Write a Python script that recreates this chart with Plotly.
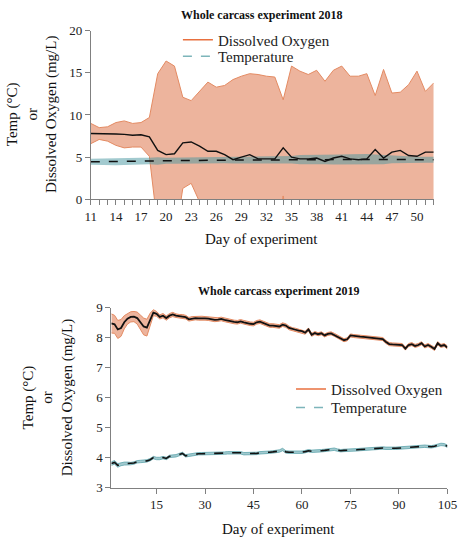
import plotly.graph_objects as go

# ---------------- data: 2018 ----------------
days_2018 = list(range(11, 53))
do_mean_2018 = [7.8, 7.8, 7.75, 7.75, 7.7, 7.6, 7.65, 7.4, 5.8, 5.3, 5.4, 6.7, 6.8, 6.3,
                5.7, 5.7, 5.3, 4.7, 5.0, 5.3, 4.8, 4.8, 4.8, 6.1, 5.0, 4.8, 4.8, 4.9,
                4.5, 4.9, 5.1, 4.8, 4.7, 4.8, 5.9, 4.9, 5.6, 5.8, 5.2, 5.1, 5.6, 5.6]
do_sd_2018 = [1.2, 0.7, 0.85, 1.35, 1.6, 1.4, 1.45, 2.3, 9.1, 11.1, 10.4, 5.4, 4.9, 6.5,
              8.2, 7.6, 8.2, 9.5, 9.6, 9.6, 10.0, 9.8, 9.7, 5.7, 10.8, 10.4, 10.0, 10.4,
              9.5, 10.4, 10.7, 9.8, 9.9, 10.1, 6.4, 10.5, 7.0, 6.9, 8.4, 10.1, 7.2, 8.2]
temp_mean_2018 = [4.45, 4.45, 4.47, 4.48, 4.5, 4.5, 4.52, 4.55, 4.55, 4.57, 4.58, 4.6, 4.6, 4.62,
                  4.63, 4.64, 4.65, 4.66, 4.67, 4.68, 4.68, 4.69, 4.7, 4.7, 4.7, 4.71, 4.72, 4.72,
                  4.72, 4.72, 4.73, 4.73, 4.73, 4.73, 4.72, 4.72, 4.72, 4.71, 4.71, 4.7, 4.7, 4.7]
temp_sd_2018 = [0.35, 0.38, 0.42, 0.44, 0.42, 0.4, 0.42, 0.38, 0.45, 0.35, 0.35, 0.35, 0.38, 0.36,
                0.35, 0.36, 0.38, 0.4, 0.4, 0.42, 0.4, 0.42, 0.42, 0.4, 0.45, 0.55, 0.55, 0.5,
                0.55, 0.6, 0.6, 0.62, 0.65, 0.65, 0.6, 0.55, 0.45, 0.4, 0.38, 0.35, 0.35, 0.35]

# ---------------- data: 2019 ----------------
days_2019 = list(range(1, 106))
do_mean_2019 = [8.48, 8.45, 8.28, 8.33, 8.52, 8.64, 8.70, 8.71, 8.66, 8.52,
                8.38, 8.34, 8.62, 8.84, 8.80, 8.70, 8.74, 8.66, 8.74, 8.78,
                8.74, 8.72, 8.72, 8.69, 8.62, 8.65, 8.66, 8.65, 8.66, 8.65,
                8.64, 8.62, 8.60, 8.61, 8.63, 8.60, 8.57, 8.54, 8.53, 8.52,
                8.55, 8.52, 8.49, 8.47, 8.46, 8.52, 8.54, 8.50, 8.44, 8.41,
                8.41, 8.40, 8.38, 8.44, 8.41, 8.33, 8.29, 8.27, 8.24, 8.22,
                8.17, 8.28, 8.10, 8.16, 8.12, 8.15, 8.08, 8.13, 8.15, 8.10,
                8.04, 7.98, 7.92, 7.95, 8.08, 8.06, 8.05, 8.04, 8.03, 8.02,
                8.01, 8.00, 7.99, 7.98, 7.96, 7.86, 7.79, 7.78, 7.77, 7.77,
                7.76, 7.64, 7.76, 7.79, 7.73, 7.76, 7.82, 7.71, 7.76, 7.70,
                7.63, 7.82, 7.73, 7.76, 7.68]
do_sd_2019 = [0.32, 0.30, 0.30, 0.28, 0.22, 0.18, 0.17, 0.17, 0.20, 0.24,
              0.28, 0.28, 0.20, 0.10, 0.08, 0.07, 0.07, 0.07, 0.07, 0.07,
              0.06, 0.06, 0.06, 0.06, 0.06, 0.06, 0.06, 0.06, 0.06, 0.06,
              0.06, 0.06, 0.06, 0.06, 0.06, 0.06, 0.06, 0.06, 0.06, 0.06,
              0.06, 0.06, 0.06, 0.06, 0.06, 0.06, 0.06, 0.06, 0.06, 0.06,
              0.06, 0.06, 0.06, 0.06, 0.06, 0.06, 0.05, 0.05, 0.05, 0.05,
              0.05, 0.05, 0.05, 0.05, 0.05, 0.05, 0.05, 0.05, 0.05, 0.05,
              0.05, 0.05, 0.05, 0.05, 0.05, 0.05, 0.05, 0.05, 0.05, 0.05,
              0.05, 0.05, 0.05, 0.05, 0.05, 0.05, 0.05, 0.05, 0.05, 0.05,
              0.05, 0.05, 0.05, 0.05, 0.05, 0.05, 0.05, 0.05, 0.05, 0.05,
              0.05, 0.05, 0.05, 0.05, 0.05]
temp_mean_2019 = [3.80, 3.84, 3.74, 3.78, 3.80, 3.80, 3.80, 3.82, 3.86, 3.87,
                  3.88, 3.89, 3.93, 4.00, 3.97, 3.97, 4.00, 3.97, 4.04, 4.05,
                  4.06, 4.10, 4.14, 4.06, 4.08, 4.09, 4.11, 4.13, 4.13, 4.13,
                  4.14, 4.15, 4.15, 4.14, 4.15, 4.15, 4.16, 4.16, 4.17, 4.18,
                  4.16, 4.13, 4.13, 4.13, 4.13, 4.14, 4.16, 4.16, 4.17, 4.18,
                  4.19, 4.20, 4.22, 4.27, 4.19, 4.18, 4.18, 4.17, 4.17, 4.18,
                  4.20, 4.23, 4.21, 4.21, 4.22, 4.23, 4.24, 4.26, 4.28, 4.28,
                  4.25, 4.23, 4.24, 4.24, 4.25, 4.25, 4.26, 4.27, 4.28, 4.29,
                  4.29, 4.30, 4.31, 4.32, 4.32, 4.31, 4.30, 4.31, 4.31, 4.32,
                  4.31, 4.32, 4.34, 4.35, 4.36, 4.36, 4.37, 4.38, 4.37, 4.36,
                  4.38, 4.42, 4.44, 4.43, 4.38]
temp_sd_2019 = [0.06, 0.06, 0.06, 0.05, 0.05, 0.05, 0.04, 0.04, 0.04, 0.04,
                0.04, 0.04, 0.04, 0.04, 0.04, 0.04, 0.04, 0.04, 0.04, 0.04,
                0.04, 0.04, 0.04, 0.04, 0.04, 0.04, 0.04, 0.04, 0.04, 0.04,
                0.04, 0.04, 0.04, 0.04, 0.04, 0.04, 0.04, 0.04, 0.04, 0.04,
                0.04, 0.04, 0.04, 0.04, 0.04, 0.04, 0.04, 0.04, 0.04, 0.04,
                0.04, 0.04, 0.04, 0.04, 0.04, 0.04, 0.04, 0.04, 0.04, 0.04,
                0.04, 0.04, 0.04, 0.04, 0.04, 0.04, 0.04, 0.04, 0.04, 0.04,
                0.04, 0.04, 0.04, 0.04, 0.04, 0.04, 0.04, 0.04, 0.04, 0.04,
                0.04, 0.04, 0.04, 0.04, 0.04, 0.04, 0.04, 0.04, 0.04, 0.04,
                0.04, 0.04, 0.04, 0.04, 0.04, 0.04, 0.04, 0.04, 0.04, 0.04,
                0.04, 0.04, 0.04, 0.04, 0.04]

series_names = ["Dissolved Oxygen", "Temperature"]
title_2018 = "Whole carcass experiment 2018"
title_2019 = "Whole carcass experiment 2019"
x_title = "Day of experiment"
y_title = "Temp (°C)<br>or<br>Dissolved Oxygen (mg/L)"

# ---------------- styles ----------------
FONT = "Liberation Serif"
ORANGE_EDGE = "#E38A62"
ORANGE_FILL = "rgba(222,118,76,0.55)"
ORANGE_LEG = "#E8703F"
TEAL_EDGE = "rgba(95,165,172,0.8)"
TEAL_FILL = "rgba(70,150,160,0.5)"
TEAL_LEG = "#7DB5BA"
AXIS = "#808080"

fig = go.Figure()


def add_band(x, mean, sd, edge, fill, xa, ya, width=1):
    lo = [m - s for m, s in zip(mean, sd)]
    hi = [m + s for m, s in zip(mean, sd)]
    fig.add_trace(go.Scatter(x=x, y=lo, mode="lines", line=dict(color=edge, width=width),
                             showlegend=False, hoverinfo="skip", xaxis=xa, yaxis=ya))
    fig.add_trace(go.Scatter(x=x, y=hi, mode="lines", line=dict(color=edge, width=width),
                             fill="tonexty", fillcolor=fill, showlegend=False,
                             hoverinfo="skip", xaxis=xa, yaxis=ya))


# 2018 panel
add_band(days_2018, do_mean_2018, do_sd_2018, ORANGE_EDGE, ORANGE_FILL, "x", "y")
add_band(days_2018, temp_mean_2018, temp_sd_2018, "rgba(0,0,0,0)", TEAL_FILL, "x", "y", 0)
fig.add_trace(go.Scatter(x=days_2018, y=do_mean_2018, mode="lines",
                         line=dict(color="#111", width=1.4), showlegend=False, xaxis="x", yaxis="y"))
fig.add_trace(go.Scatter(x=days_2018, y=temp_mean_2018, mode="lines",
                         line=dict(color="#111", width=1.5, dash="dash"), showlegend=False,
                         xaxis="x", yaxis="y"))

# 2019 panel
add_band(days_2019, do_mean_2019, do_sd_2019, ORANGE_EDGE, ORANGE_FILL, "x2", "y2")
add_band(days_2019, temp_mean_2019, temp_sd_2019, TEAL_EDGE, TEAL_FILL, "x2", "y2")
fig.add_trace(go.Scatter(x=days_2019, y=do_mean_2019, mode="lines",
                         line=dict(color="#111", width=1.8), showlegend=False, xaxis="x2", yaxis="y2"))
fig.add_trace(go.Scatter(x=days_2019, y=temp_mean_2019, mode="lines",
                         line=dict(color="#111", width=1.6, dash="dash"), showlegend=False,
                         xaxis="x2", yaxis="y2"))

# legend entries: one legend per row so the rows sit exactly where they belong
legend_rows = [("legend", "x", "y", 0), ("legend2", "x", "y", 1),
               ("legend3", "x2", "y2", 0), ("legend4", "x2", "y2", 1)]
for lg, xa, ya, i in legend_rows:
    fig.add_trace(go.Scatter(x=[None], y=[None], mode="lines", name=series_names[i],
                             line=dict(color=ORANGE_LEG if i == 0 else TEAL_LEG, width=1.5,
                                       dash="solid" if i == 0 else "dash"),
                             legend=lg, xaxis=xa, yaxis=ya))

axis_common = dict(showline=True, linecolor=AXIS, linewidth=1, ticks="outside", ticklen=5,
                   tickcolor=AXIS, showgrid=False, zeroline=False,
                   tickfont=dict(family=FONT, size=13, color="#222"))

leg_font = dict(family=FONT, size=15, color="#222")


def leg(x, y):
    return dict(x=x, y=y, xanchor="left", yanchor="middle", bgcolor="rgba(0,0,0,0)",
                font=leg_font, traceorder="normal")


def ann(text, x, y, size, angle=0):
    return dict(text=text, x=x, y=y, xref="paper", yref="paper", showarrow=False,
                xanchor="center", yanchor="middle", textangle=angle,
                font=dict(family=FONT, size=size, color="#111"))


fig.update_layout(
    width=472, height=550,
    margin=dict(l=0, r=0, t=0, b=0),
    paper_bgcolor="white", plot_bgcolor="white",
    font=dict(family=FONT, color="#222"),
    xaxis=dict(domain=[0.186, 0.938], range=[11, 52], tick0=11, dtick=3, anchor="y",
               minor=dict(dtick=1, tick0=11, ticks="outside", ticklen=5, tickcolor=AXIS),
               **axis_common),
    yaxis=dict(domain=[0.6405, 0.9558], range=[0, 20], dtick=5, anchor="x", **axis_common),
    xaxis2=dict(domain=[0.231, 0.968], range=[1, 105], tickvals=[15, 30, 45, 60, 75, 90, 105],
                anchor="y2", **axis_common),
    yaxis2=dict(domain=[0.1018, 0.4376], range=[3, 9], dtick=1, anchor="x2", **axis_common),
    legend=leg(0.377, (550 - 34) / 550),
    legend2=leg(0.377, (550 - 51) / 550),
    legend3=leg(0.625, (550 - 393) / 550),
    legend4=leg(0.625, (550 - 412) / 550),
    annotations=[
        ann(f"<b>{title_2018}</b>", 0.561, (550 - 8) / 550, 12),
        ann(f"<b>{title_2019}</b>", 0.597, (550 - 291.7) / 550, 12),
        ann(x_title, 0.561, (550 - 238) / 550, 15),
        ann(x_title, 0.597, (550 - 536.7) / 550, 15),
        ann(y_title, 27 / 472, (550 - 111) / 550, 15, -90),
        ann(y_title, 43 / 472, (550 - 401.7) / 550, 15, -90),
    ],
)

fig.write_html("out.html", config={"displayModeBar": False},
               post_script="document.body.style.margin='0';")
